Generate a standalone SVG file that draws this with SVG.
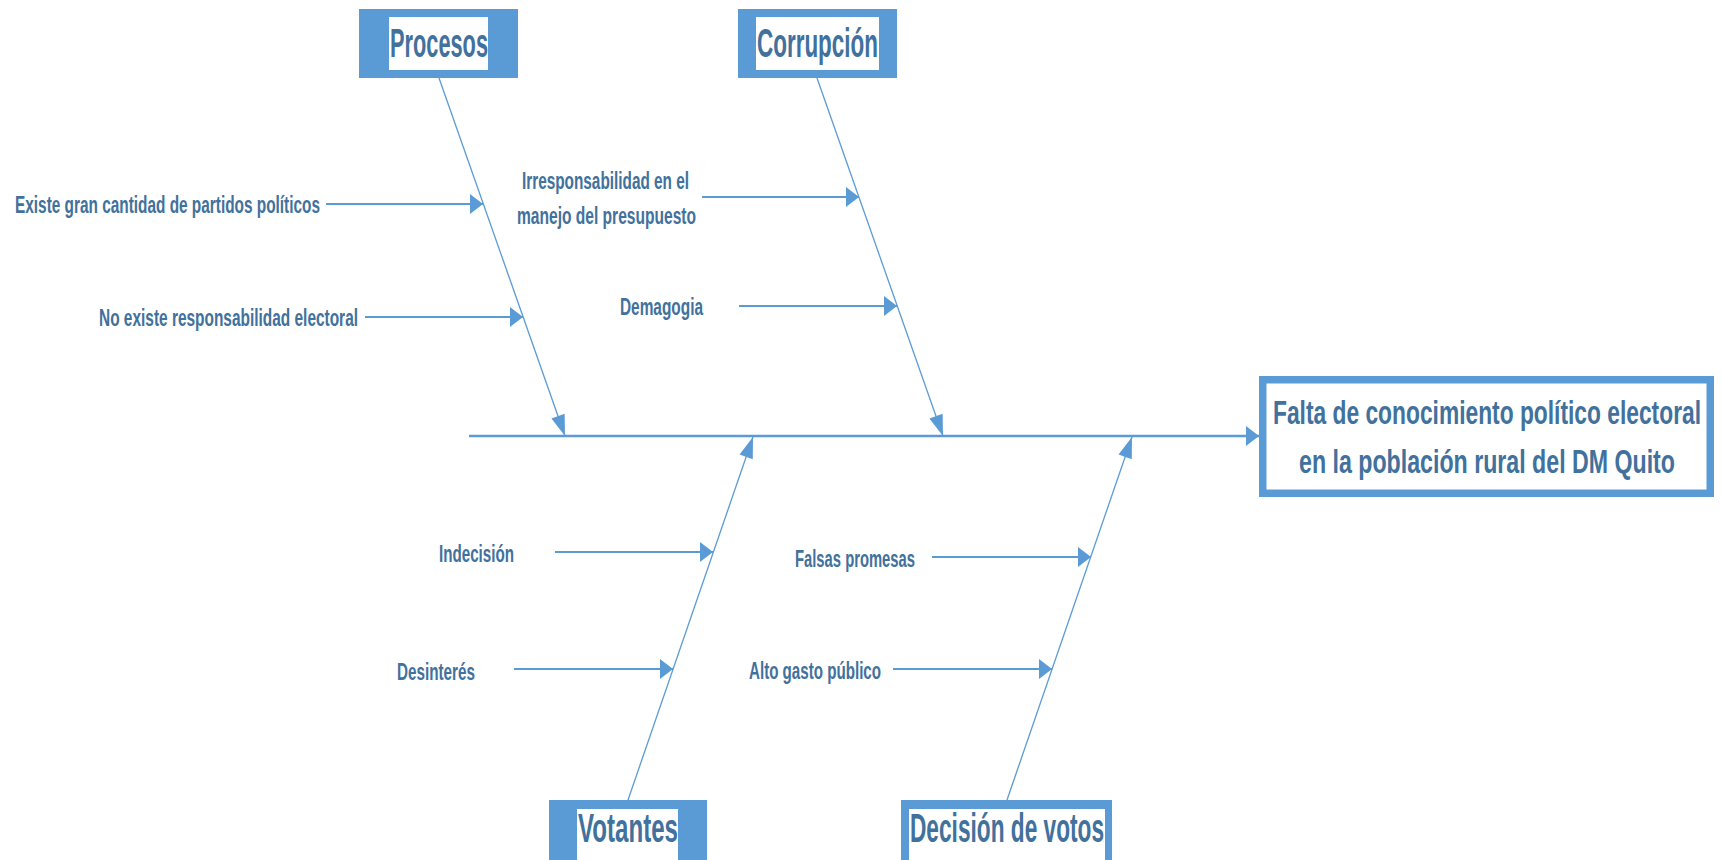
<svg xmlns="http://www.w3.org/2000/svg" width="1721" height="860" viewBox="0 0 1721 860">
<style>
  text { font-family: "Liberation Sans Narrow", "Liberation Sans", Arial, sans-serif; font-weight: bold; fill: #41719C; }
  .lbl { font-size: 23px; }
  .cat { font-size: 40px; }
  .eff { font-size: 34px; }
  .boxo { fill: #5B9BD5; }
  .boxi { fill: #FFFFFF; }
  .bone { stroke: #5B9BD5; stroke-width: 1.3; fill: none; marker-end: url(#ab); }
  .sub { stroke: #5B9BD5; stroke-width: 2; fill: none; marker-end: url(#ah); }
  .spine { stroke: #5B9BD5; stroke-width: 2.5; fill: none; marker-end: url(#ah); }
</style>
<defs>
  <marker id="ah" markerUnits="userSpaceOnUse" markerWidth="14" markerHeight="21" refX="13" refY="10" orient="auto" overflow="visible">
    <path d="M0,0 L13,10 L0,20 z" fill="#5B9BD5"/>
  </marker>
  <marker id="ab" markerUnits="userSpaceOnUse" markerWidth="22" markerHeight="15" refX="21" refY="7" orient="auto" overflow="visible">
    <path d="M0,0 L21,7 L0,14 z" fill="#5B9BD5"/>
  </marker>
</defs>
<rect width="1721" height="860" fill="#FFFFFF"/>

<g id="connectors">
  <line class="spine" x1="469" y1="436" x2="1259" y2="436"/>
  <line class="bone" x1="439" y1="78" x2="565" y2="436"/>
  <line class="bone" x1="817" y1="78" x2="943" y2="436"/>
  <line class="bone" x1="628" y1="800" x2="753" y2="437"/>
  <line class="bone" x1="1007" y1="800" x2="1132" y2="437"/>
  <line class="sub" x1="326" y1="204" x2="483" y2="204"/>
  <line class="sub" x1="365" y1="317" x2="523" y2="317"/>
  <line class="sub" x1="702" y1="197" x2="859" y2="197"/>
  <line class="sub" x1="739" y1="306" x2="897" y2="306"/>
  <line class="sub" x1="555" y1="552" x2="713" y2="552"/>
  <line class="sub" x1="514" y1="669" x2="673" y2="669"/>
  <line class="sub" x1="932" y1="557" x2="1091" y2="557"/>
  <line class="sub" x1="893" y1="669" x2="1052" y2="669"/>
</g>

<g id="procesos">
  <rect class="boxo" x="359" y="9" width="159" height="69"/>
  <rect class="boxi" x="389" y="17" width="99" height="53"/>
  <text class="cat" x="390" y="57" textLength="98" lengthAdjust="spacingAndGlyphs">Procesos</text>
</g>
<g id="corrupcion">
  <rect class="boxo" x="738" y="9" width="159" height="69"/>
  <rect class="boxi" x="756" y="17" width="123" height="53"/>
  <text class="cat" x="757" y="57" textLength="121" lengthAdjust="spacingAndGlyphs">Corrupción</text>
</g>
<g id="votantes">
  <rect class="boxo" x="549" y="800" width="158" height="70"/>
  <rect class="boxi" x="577" y="809" width="101" height="60"/>
  <text class="cat" x="578" y="842" textLength="100" lengthAdjust="spacingAndGlyphs">Votantes</text>
</g>
<g id="decision">
  <rect class="boxo" x="901" y="800" width="211" height="70"/>
  <rect class="boxi" x="909" y="809" width="196" height="60"/>
  <text class="cat" x="910" y="842" textLength="194" lengthAdjust="spacingAndGlyphs">Decisión de votos</text>
</g>
<g id="efecto">
  <rect class="boxo" x="1259" y="376" width="455" height="121"/>
  <rect class="boxi" x="1266.5" y="383.5" width="440" height="106"/>
  <text class="eff" x="1273" y="424" textLength="428" lengthAdjust="spacingAndGlyphs">Falta de conocimiento político electoral</text>
  <text class="eff" x="1299" y="473" textLength="376" lengthAdjust="spacingAndGlyphs">en la población rural del DM Quito</text>
</g>

<g id="causa-partidos">
  <text class="lbl" x="15" y="213" textLength="305" lengthAdjust="spacingAndGlyphs">Existe gran cantidad de partidos políticos</text>
</g>
<g id="causa-responsabilidad">
  <text class="lbl" x="99" y="326" textLength="259" lengthAdjust="spacingAndGlyphs">No existe responsabilidad electoral</text>
</g>
<g id="causa-presupuesto">
  <text class="lbl" x="522" y="189" textLength="167" lengthAdjust="spacingAndGlyphs">Irresponsabilidad en el</text>
  <text class="lbl" x="517" y="224" textLength="179" lengthAdjust="spacingAndGlyphs">manejo del presupuesto</text>
</g>
<g id="causa-demagogia">
  <text class="lbl" x="620" y="315" textLength="83" lengthAdjust="spacingAndGlyphs">Demagogia</text>
</g>
<g id="causa-indecision">
  <text class="lbl" x="439" y="562" textLength="75" lengthAdjust="spacingAndGlyphs">Indecisión</text>
</g>
<g id="causa-desinteres">
  <text class="lbl" x="397" y="680" textLength="78" lengthAdjust="spacingAndGlyphs">Desinterés</text>
</g>
<g id="causa-promesas">
  <text class="lbl" x="795" y="567" textLength="120" lengthAdjust="spacingAndGlyphs">Falsas promesas</text>
</g>
<g id="causa-gasto">
  <text class="lbl" x="749" y="679" textLength="132" lengthAdjust="spacingAndGlyphs">Alto gasto público</text>
</g>
</svg>
